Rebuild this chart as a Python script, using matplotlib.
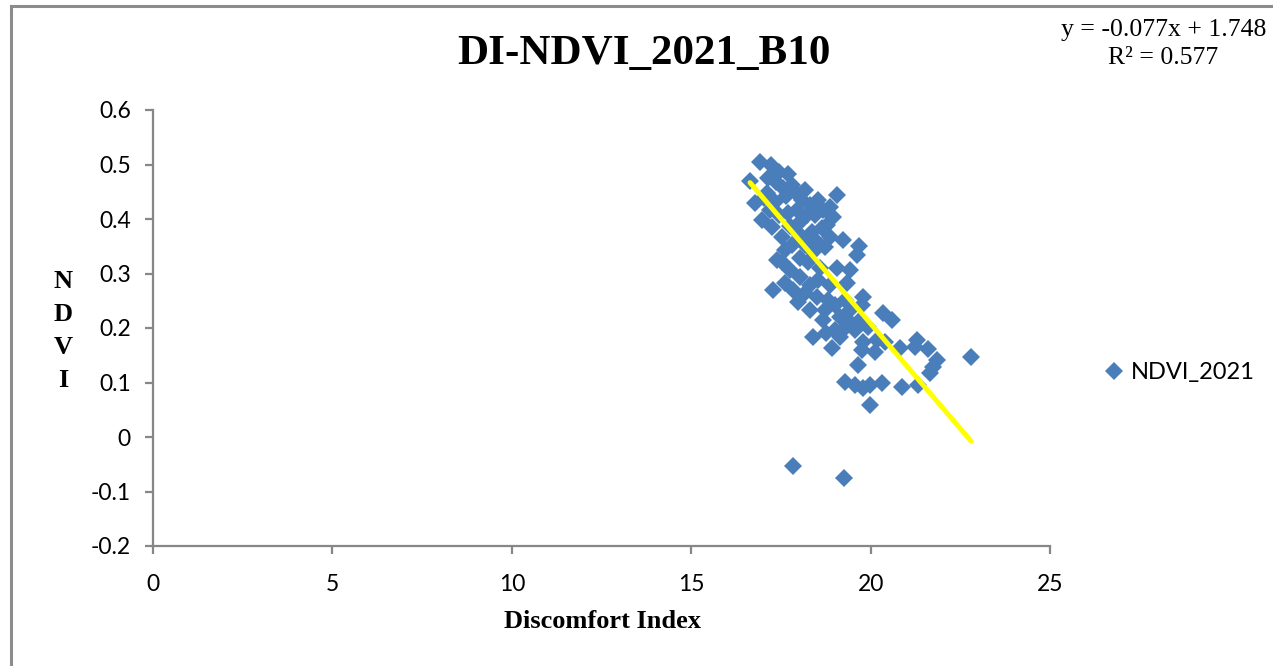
import matplotlib
matplotlib.use("Agg")
import matplotlib.pyplot as plt
from matplotlib.lines import Line2D
from matplotlib.patches import Rectangle
import numpy as np

SERIES = "#4a7ebb"
TREND = "#ffff00"
AXIS = "#878787"
INK = "#000000"
SERIF = ["Liberation Serif", "DejaVu Serif"]
SANS = ["Lato", "DejaVu Sans"]

# Discomfort Index (x) and NDVI 2021 (y) per sample
di = [16.64, 16.92, 17.22, 17.45, 17.70, 17.36, 17.56, 17.11, 16.78, 17.03,
      17.34, 17.64, 17.89, 18.09, 18.31, 17.95, 17.70, 17.45, 16.97, 17.25,
      17.53, 17.75, 18.03, 18.45, 18.67, 18.87, 19.06, 18.95, 18.65, 18.37,
      18.12, 17.81, 18.87, 18.73, 19.23, 19.68, 19.62, 18.39, 18.03, 17.53,
      17.75, 17.61, 17.28, 18.03, 18.31, 18.59, 19.06, 19.43, 19.34, 18.87,
      18.51, 17.98, 18.31, 18.81, 19.79, 20.35, 20.60, 18.67, 19.15, 19.76,
      19.70, 19.93, 18.39, 18.92, 19.15, 19.23, 19.79, 19.76, 20.12, 20.18,
      20.40, 20.82, 21.29, 21.24, 21.60, 21.85, 21.74, 21.66, 22.80, 19.65,
      19.29, 19.57, 19.79, 19.98, 20.32, 20.88, 21.32, 19.98, 17.84, 19.26,
      17.14, 17.81, 18.17, 18.53, 18.23, 17.89, 17.61, 18.17, 18.45, 18.78,
      17.20, 18.26, 18.53, 18.17, 17.84, 18.73, 19.01, 19.29, 19.43, 19.37,
      19.57, 19.01, 18.76, 17.39]
ndvi = [0.470, 0.505, 0.499, 0.486, 0.483, 0.468, 0.457, 0.448, 0.429, 0.439,
        0.431, 0.442, 0.450, 0.435, 0.426, 0.417, 0.411, 0.407, 0.398, 0.385,
        0.367, 0.387, 0.394, 0.407, 0.417, 0.422, 0.444, 0.404, 0.383, 0.376,
        0.365, 0.352, 0.367, 0.349, 0.361, 0.350, 0.334, 0.339, 0.328, 0.321,
        0.306, 0.283, 0.270, 0.294, 0.279, 0.310, 0.310, 0.306, 0.283, 0.279,
        0.257, 0.248, 0.233, 0.251, 0.257, 0.228, 0.215, 0.215, 0.220, 0.242,
        0.215, 0.202, 0.183, 0.163, 0.183, 0.196, 0.174, 0.160, 0.156, 0.178,
        0.174, 0.163, 0.178, 0.165, 0.161, 0.141, 0.128, 0.117, 0.147, 0.132,
        0.101, 0.095, 0.090, 0.095, 0.099, 0.092, 0.095, 0.059, -0.053, -0.075,
        0.475, 0.462, 0.453, 0.435, 0.407, 0.380, 0.343, 0.352, 0.361, 0.389,
        0.417, 0.321, 0.288, 0.264, 0.270, 0.233, 0.242, 0.251, 0.233, 0.215,
        0.196, 0.196, 0.191, 0.325]

slope, intercept, r2 = -0.077, 1.748, 0.577
x_ticks = [0, 5, 10, 15, 20, 25]
y_ticks = [-0.2, -0.1, 0, 0.1, 0.2, 0.3, 0.4, 0.5, 0.6]

fig = plt.figure(figsize=(12.73, 6.66), dpi=100)
fig.patch.set_facecolor("white")

# chart frame (only its top and left edges fall inside the canvas)
fig.patches.append(Rectangle((11 / 1273, -0.05), 1.1, 1 - 6 / 666 + 0.05,
                             transform=fig.transFigure, fill=False,
                             edgecolor="#8c8c8c", linewidth=2.2))

ax = fig.add_axes([153 / 1273, 1 - 546 / 666, 897 / 1273, 436 / 666])
x = np.array(di)
y = np.array(ndvi)
ax.plot(x, y, linestyle="none", marker="D", markersize=9.0,
        color=SERIES, markeredgewidth=0, zorder=2)

xs = np.array([x.min(), x.max()])
ax.plot(xs, slope * xs + intercept, color=TREND, linewidth=3.6,
        solid_capstyle="round", zorder=3)

ax.set_xlim(0, 25)
ax.set_ylim(-0.2, 0.6)
ax.set_xticks(x_ticks)
ax.set_yticks(y_ticks)
ax.set_xticklabels([str(t) for t in x_ticks])
ax.set_yticklabels([f"{t:g}" for t in y_ticks])
for s in ("top", "right"):
    ax.spines[s].set_visible(False)
for s in ("left", "bottom"):
    ax.spines[s].set_color(AXIS)
    ax.spines[s].set_linewidth(1.6)
ax.tick_params(direction="out", length=6, width=1.6, color=AXIS,
               labelsize=16.5, labelcolor=INK)
ax.tick_params(axis="x", pad=14)
ax.tick_params(axis="y", pad=10)
for lab in ax.get_xticklabels() + ax.get_yticklabels():
    lab.set_family(SANS)

fig.text(644 / 1273, 1 - 54 / 666, "DI-NDVI_2021_B10", ha="center",
         va="center", fontsize=31, fontweight="bold", family=SERIF)
fig.text(602 / 1273, 1 - 622 / 666, "Discomfort Index", ha="center",
         va="center", fontsize=19, fontweight="bold", family=SERIF)
fig.text(63 / 1273, 1 - 331 / 666, "N\nD\nV\nI", ha="center", va="center",
         fontsize=19, fontweight="bold", family=SERIF, linespacing=1.54)

fig.text(1164 / 1273, 1 - 30 / 666, f"y = {slope:.3f}x + {intercept:.3f}",
         ha="center", va="center", fontsize=18.5, family=SERIF)
fig.text(1163 / 1273, 1 - 58 / 666, f"R² = {r2:.3f}", ha="center",
         va="center", fontsize=18.5, family=SERIF)

handle = Line2D([], [], linestyle="none", marker="D", markersize=9.0,
                color=SERIES, markeredgewidth=0)
fig.legend([handle], ["NDVI_2021"], loc="center left",
           bbox_to_anchor=(1093 / 1273, 1 - 373 / 666), frameon=False,
           prop={"family": SANS, "size": 17}, handlelength=0.8,
           handletextpad=0.3, borderpad=0)

fig.savefig("out.png", dpi=100, facecolor="white")
